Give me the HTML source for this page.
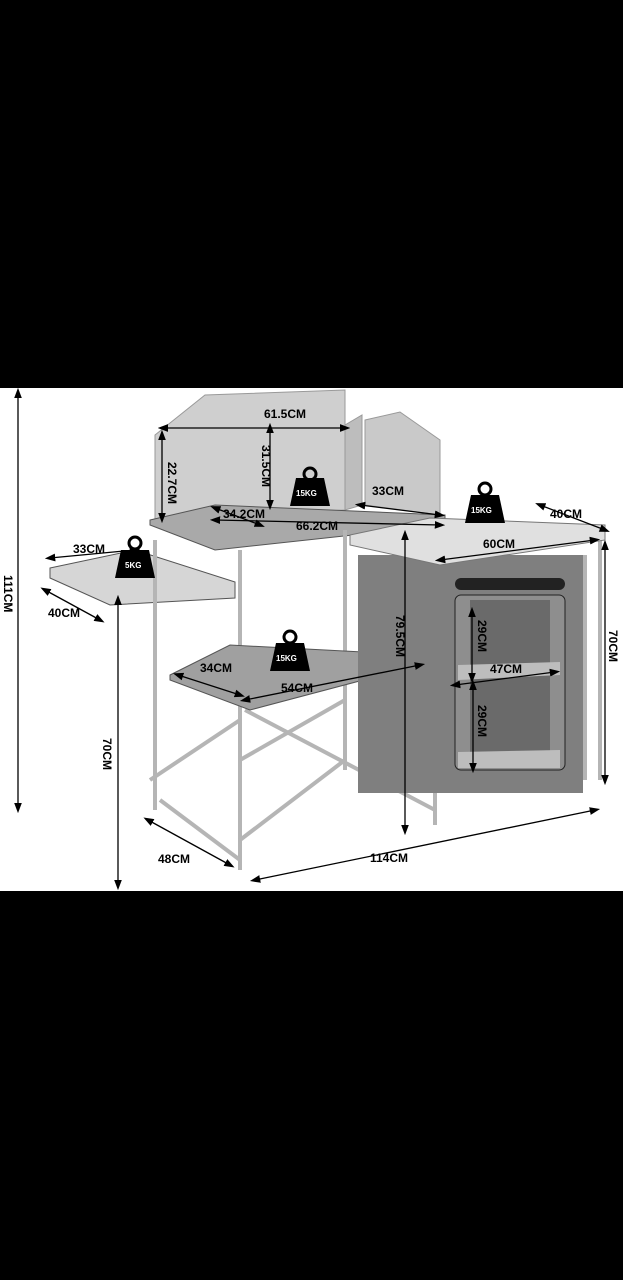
<!DOCTYPE html>
<html><head><meta charset="utf-8"><style>
html,body{margin:0;padding:0;background:#000;width:623px;height:1280px;overflow:hidden}
svg{display:block}
text{font-family:"Liberation Sans",sans-serif;font-size:12px;font-weight:bold;fill:#000}
</style></head><body>
<svg width="623" height="1280" viewBox="0 0 623 1280">
<rect x="0" y="0" width="623" height="1280" fill="#000"/>
<rect x="0" y="388" width="623" height="503" fill="#fff"/>
<defs><marker id="a" markerWidth="8" markerHeight="8" refX="4" refY="4" orient="auto"><path d="M0,1 L8,4 L0,7 z" fill="#000"/></marker>
<marker id="b" markerWidth="8" markerHeight="8" refX="4" refY="4" orient="auto-start-reverse"><path d="M0,1 L8,4 L0,7 z" fill="#000"/></marker></defs>
<!-- windscreen -->
<path d="M155,435 L205,395 L345,390 L345,510 L155,520 z" fill="#cfcfcf" stroke="#999"/>
<path d="M345,425 L362,415 L362,505 L345,510 z" fill="#bdbdbd" stroke="#999"/>
<path d="M365,420 L400,412 L440,440 L440,515 L365,505 z" fill="#c9c9c9" stroke="#999"/>
<!-- main top -->
<path d="M150,520 L215,505 L445,515 L445,525 L215,550 L150,525 z" fill="#a9a9a9" stroke="#555"/>
<!-- side table -->
<path d="M50,568 L135,550 L235,582 L235,598 L110,605 L50,578 z" fill="#d6d6d6" stroke="#555"/>
<!-- legs -->
<g stroke="#b5b5b5" stroke-width="4" fill="none">
<line x1="155" y1="540" x2="155" y2="810"/><line x1="240" y1="550" x2="240" y2="870"/>
<line x1="345" y1="530" x2="345" y2="770"/><line x1="435" y1="545" x2="435" y2="825"/>
<line x1="600" y1="540" x2="600" y2="780"/><line x1="585" y1="555" x2="585" y2="780"/>
<line x1="160" y1="800" x2="240" y2="860"/><line x1="240" y1="760" x2="345" y2="700"/>
<line x1="245" y1="710" x2="435" y2="810"/><line x1="240" y1="840" x2="345" y2="760"/>
<line x1="150" y1="780" x2="240" y2="720"/>
</g>
<!-- middle shelf -->
<path d="M170,675 L230,645 L420,655 L420,665 L250,710 L170,680 z" fill="#a0a0a0" stroke="#555"/>
<!-- cabinet -->
<rect x="358" y="555" width="225" height="238" fill="#7f7f7f"/>
<rect x="455" y="595" width="110" height="175" rx="6" fill="#8e8e8e" stroke="#222"/>
<rect x="470" y="600" width="80" height="160" fill="#6a6a6a"/>
<path d="M458,665 L560,662 L560,675 L458,680 z" fill="#bdbdbd"/>
<path d="M458,752 L560,750 L560,768 L458,768 z" fill="#bdbdbd"/>
<rect x="455" y="578" width="110" height="12" rx="6" fill="#222"/>
<path d="M350,535 L430,518 L605,525 L605,540 L440,565 L350,545 z" fill="#e0e0e0" stroke="#777"/>
<!-- dimension lines -->
<g stroke="#000" stroke-width="1.3" marker-start="url(#b)" marker-end="url(#a)">
<line x1="18" y1="393" x2="18" y2="808"/>
<line x1="118" y1="600" x2="118" y2="885"/>
<line x1="163" y1="428" x2="345" y2="428"/>
<line x1="270" y1="428" x2="270" y2="505"/>
<line x1="162" y1="435" x2="162" y2="518"/>
<line x1="215" y1="520" x2="440" y2="525"/>
<line x1="360" y1="505" x2="440" y2="515"/>
<line x1="215" y1="508" x2="260" y2="525"/>
<line x1="50" y1="558" x2="135" y2="550"/>
<line x1="45" y1="590" x2="100" y2="620"/>
<line x1="245" y1="700" x2="420" y2="665"/>
<line x1="178" y1="675" x2="240" y2="695"/>
<line x1="148" y1="820" x2="230" y2="865"/>
<line x1="255" y1="880" x2="595" y2="810"/>
<line x1="405" y1="535" x2="405" y2="830"/>
<line x1="440" y1="560" x2="595" y2="540"/>
<line x1="540" y1="505" x2="605" y2="530"/>
<line x1="605" y1="545" x2="605" y2="780"/>
<line x1="472" y1="612" x2="472" y2="678"/>
<line x1="473" y1="685" x2="473" y2="768"/>
<line x1="455" y1="685" x2="555" y2="672"/>
</g>
<!-- weights -->
<g fill="#000">
<path d="M296,478 L324,478 L330,506 L290,506 z"/><circle cx="310" cy="474" r="6" fill="none" stroke="#000" stroke-width="3"/>
<path d="M471,495 L499,495 L505,523 L465,523 z"/><circle cx="485" cy="489" r="6" fill="none" stroke="#000" stroke-width="3"/>
<path d="M121,550 L149,550 L155,578 L115,578 z"/><circle cx="135" cy="543" r="6" fill="none" stroke="#000" stroke-width="3"/>
<path d="M276,643 L304,643 L310,671 L270,671 z"/><circle cx="290" cy="637" r="6" fill="none" stroke="#000" stroke-width="3"/>
</g>
<text x="296" y="496" style="fill:#fff;font-size:8px">15KG</text>
<text x="471" y="513" style="fill:#fff;font-size:8px">15KG</text>
<text x="125" y="568" style="fill:#fff;font-size:8px">5KG</text>
<text x="276" y="661" style="fill:#fff;font-size:8px">15KG</text>
<text x="264" y="418">61.5CM</text>
<text x="372" y="495">33CM</text>
<text x="296" y="530">66.2CM</text>
<text x="223" y="518">34.2CM</text>
<text x="73" y="553">33CM</text>
<text x="48" y="617">40CM</text>
<text x="483" y="548">60CM</text>
<text x="550" y="518">40CM</text>
<text x="281" y="692">54CM</text>
<text x="200" y="672">34CM</text>
<text x="490" y="673">47CM</text>
<text x="370" y="862">114CM</text>
<text x="158" y="863">48CM</text>
<text transform="translate(262,445) rotate(90)">31.5CM</text>
<text transform="translate(168,462) rotate(90)">22.7CM</text>
<text transform="translate(4,575) rotate(90)">111CM</text>
<text transform="translate(103,738) rotate(90)">70CM</text>
<text transform="translate(396,615) rotate(90)">79.5CM</text>
<text transform="translate(609,630) rotate(90)">70CM</text>
<text transform="translate(478,620) rotate(90)">29CM</text>
<text transform="translate(478,705) rotate(90)">29CM</text>
</svg>
</body></html>
